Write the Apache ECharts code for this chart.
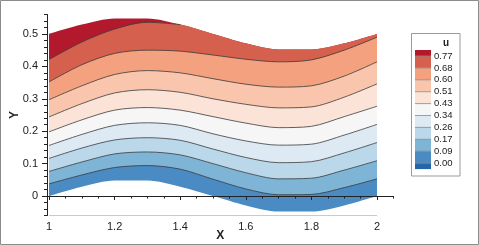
<!DOCTYPE html>
<html><head><meta charset="utf-8">
<style>html,body{margin:0;padding:0;background:#fff}#c{width:479px;height:245px}</style>
<script src="https://cdn.jsdelivr.net/npm/echarts@6/dist/echarts.min.js"></script>
</head><body><div id="c"></div>
<script>
// sample positions along the channel
const xs = [1.0, 1.1, 1.2, 1.3, 1.4, 1.5, 1.6, 1.7, 1.8, 1.9, 2.0];
// walls
const topWall    = [0.500, 0.529, 0.548, 0.548, 0.529, 0.500, 0.471, 0.452, 0.452, 0.471, 0.500];
const bottomWall = [0.000, 0.029, 0.048, 0.048, 0.029, 0.000, -0.029, -0.048, -0.048, -0.029, 0.000];
// contour lines (u levels), y positions; null = line has left the domain
const u77 = [0.421, 0.475, 0.515, 0.536, 0.529, null, null, null, null, null, null];
const u68 = [0.352, 0.405, 0.440, 0.450, 0.447, 0.435, 0.422, 0.414, 0.420, 0.450, 0.490];
const u60 = [0.297, 0.340, 0.375, 0.387, 0.380, 0.362, 0.345, 0.336, 0.340, 0.370, 0.414];
const u51 = [0.244, 0.285, 0.318, 0.328, 0.320, 0.300, 0.283, 0.272, 0.275, 0.305, 0.346];
const u43 = [0.198, 0.235, 0.265, 0.273, 0.265, 0.245, 0.225, 0.211, 0.215, 0.245, 0.277];
const u34 = [0.156, 0.190, 0.218, 0.226, 0.218, 0.192, 0.170, 0.157, 0.160, 0.188, 0.221];
const u26 = [0.116, 0.148, 0.173, 0.180, 0.172, 0.145, 0.119, 0.103, 0.106, 0.133, 0.165];
const u17 = [0.076, 0.105, 0.130, 0.136, 0.127, 0.100, 0.072, 0.053, 0.055, 0.080, 0.109];
const u09 = [0.0375, 0.065, 0.088, 0.094, 0.083, 0.052, 0.022, 0.004, 0.005, 0.026, 0.053];

const levelLabels = ['0.77', '0.68', '0.60', '0.51', '0.43', '0.34', '0.26', '0.17', '0.09', '0.00'];
// band colours from highest (>0.77) to lowest (<0.00)
const bandColors = ['#b2192c', '#d6604e', '#f3a17f', '#f9c6ad', '#fbe4d7', '#f6f6f6',
                    '#ddeaf3', '#bbd8ea', '#7eb5d7', '#4a8bc3', '#2565ac'];

const xLabelValues = [1, 1.2, 1.4, 1.6, 1.8, 2];
const xMinorTicks = [1, 1.05, 1.1, 1.15, 1.2, 1.25, 1.3, 1.35, 1.4, 1.45, 1.5, 1.55, 1.6, 1.65, 1.7, 1.75, 1.8, 1.85, 1.9, 1.95, 2, 2.05];
const yLabelValues = [0, 0.1, 0.2, 0.3, 0.4, 0.5];
const yMinorTicks = [-0.06, -0.04, -0.02, 0, 0.02, 0.04, 0.06, 0.08, 0.1, 0.12, 0.14, 0.16, 0.18, 0.2, 0.22, 0.24, 0.26, 0.28, 0.3, 0.32, 0.34, 0.36, 0.38, 0.4, 0.42, 0.44, 0.46, 0.48, 0.5, 0.52, 0.54, 0.56];

const SMOOTH = 0.3;
const contours = [u77, u68, u60, u51, u43, u34, u26, u17, u09];
const pairs = arr => xs.map((x, i) => [x, arr[i]]);

// filled bands: each fill reaches down to the axis; later (lower) ones overlay earlier ones
const fillBounds = [topWall].concat(contours.map(c => c.map((v, i) => v == null ? topWall[i] : v)), [bottomWall]);
const fillColors = bandColors.slice(0, 10).concat(['#ffffff']);
const series = fillBounds.map((b, k) => ({
  type: 'line', data: pairs(b), smooth: SMOOTH, symbol: 'none', silent: true,
  lineStyle: {width: 0, opacity: 0},
  areaStyle: {color: fillColors[k], opacity: 1, origin: 'start'},
  z: 2
}));
contours.forEach(c => series.push({
  type: 'line', data: pairs(c), smooth: SMOOTH, symbol: 'none', silent: true,
  lineStyle: {width: 0.8, color: '#3a3a3a'}, z: 3
}));

const font = 'Liberation Sans, Arial, sans-serif';
const axisTxt = {color: '#222', fontSize: 11, fontFamily: font};

const lg = {x: 415, w: 16, top: 50, step: 11.9, half: 6};
const legendEls = [];
legendEls.push({type: 'rect', shape: {x: 411.5, y: 33.5, width: 48.5, height: 142.5},
  style: {fill: '#fff', stroke: '#9a9a9a', lineWidth: 1}});
legendEls.push({type: 'text', x: 446, y: 43, style: {text: 'u', font: 'bold 10px ' + font, fill: '#222', align: 'center', verticalAlign: 'middle'}});
let yy = lg.top;
bandColors.forEach((c, i) => {
  const h = (i === 0 || i === bandColors.length - 1) ? lg.half : lg.step;
  legendEls.push({type: 'rect', shape: {x: lg.x, y: yy, width: lg.w, height: h}, style: {fill: c}});
  yy += h;
});
levelLabels.forEach((t, i) => {
  const y = lg.top + lg.half + i * lg.step;
  legendEls.push({type: 'line', shape: {x1: lg.x, y1: y, x2: lg.x + lg.w, y2: y}, style: {stroke: '#888', lineWidth: 0.8}});
  legendEls.push({type: 'text', x: 434, y: y, style: {text: t, font: '9.5px ' + font, fill: '#222', verticalAlign: 'middle'}});
});
legendEls.push({type: 'rect', shape: {x: 0.5, y: 0.5, width: 478, height: 244}, style: {fill: null, stroke: '#8c8c8c', lineWidth: 1}});

const X_MIN = 0.9939, X_MAX = 2.0503;
const chart = echarts.init(document.getElementById('c'), null, {renderer: 'canvas'});
chart.setOption({
  animation: false,
  backgroundColor: '#fff',
  grid: {left: 47, top: 14.5, right: 85.5, bottom: 29.5, containLabel: false, outerBoundsMode: 'none'},
  xAxis: [{
    type: 'value', min: X_MIN, max: X_MAX, z: 10,
    axisLine: {lineStyle: {color: '#222', width: 1}},
    splitLine: {show: false},
    axisTick: {customValues: xLabelValues, length: 4, lineStyle: {color: '#222'}},
    axisLabel: Object.assign({customValues: xLabelValues, margin: 6, formatter: v => String(v)}, axisTxt),
    name: 'X', nameLocation: 'middle', nameGap: 14, nameMoveOverlap: false,
    nameTextStyle: {fontWeight: 'bold', fontSize: 12, color: '#222', fontFamily: font}
  }, {
    type: 'value', min: X_MIN, max: X_MAX, position: 'bottom', z: 10,
    axisLine: {show: false}, splitLine: {show: false}, axisLabel: {show: false},
    axisTick: {customValues: xMinorTicks, length: 2.5, lineStyle: {color: '#222'}}
  }],
  yAxis: [{
    type: 'value', min: -0.06, max: 0.56, z: 10,
    axisLine: {show: true, lineStyle: {color: '#222', width: 1}},
    splitLine: {show: false},
    axisTick: {show: true, customValues: yLabelValues, length: 5, lineStyle: {color: '#222'}},
    axisLabel: Object.assign({customValues: yLabelValues, margin: 9, formatter: v => String(v)}, axisTxt),
    name: 'Y', nameLocation: 'middle', nameGap: 26, nameRotate: 90, nameMoveOverlap: false,
    nameTextStyle: {fontWeight: 'bold', fontSize: 12, color: '#222', fontFamily: font}
  }, {
    type: 'value', min: -0.06, max: 0.56, position: 'left', z: 10,
    axisLine: {show: false}, splitLine: {show: false}, axisLabel: {show: false},
    axisTick: {show: true, customValues: yMinorTicks, length: 3, lineStyle: {color: '#222'}}
  }],
  series: series,
  graphic: {elements: legendEls}
});
</script></body></html>
